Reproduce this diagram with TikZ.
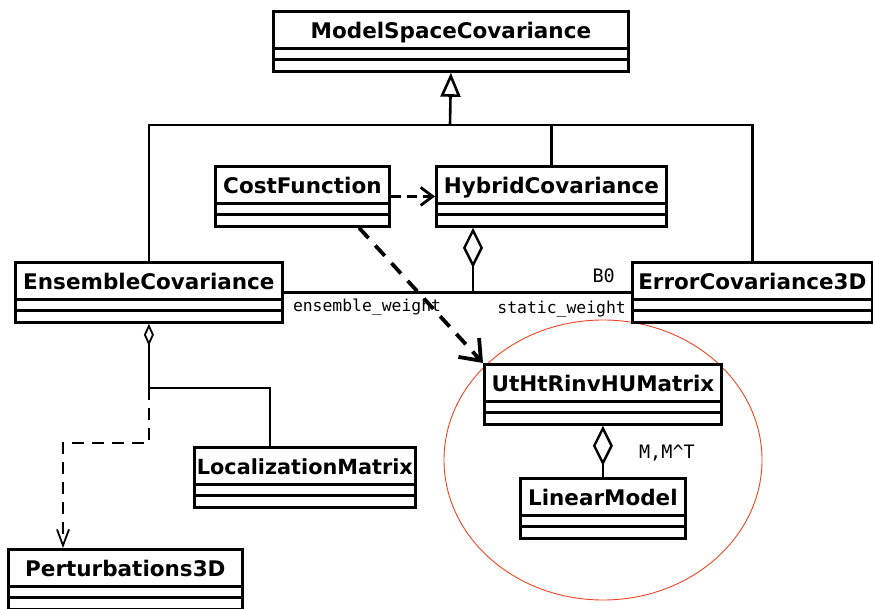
\documentclass[tikz,border=0pt]{standalone}
\usepackage{fontspec}
\setmainfont{DejaVu Sans}
\setmonofont{DejaVu Sans Mono}
\usepackage{tikz}
\usetikzlibrary{arrows.meta,positioning}
\definecolor{hilite}{HTML}{EE4422}

\begin{document}
\begin{tikzpicture}[x=1pt,y=-1pt,
  umlclass/.style={draw, fill=white, line width=2.8pt, anchor=north west,
    minimum width=#1, minimum height=60pt, inner ysep=0pt, inner xsep=1pt,
    text height=27pt, text depth=33pt,
    font=\fontsize{21.5}{24}\selectfont\bfseries,
    path picture={
      \draw[line width=2.8pt] ([yshift=-37pt]path picture bounding box.north west)
        -- ([yshift=-37pt]path picture bounding box.north east);
      \draw[line width=2.8pt] ([yshift=-48pt]path picture bounding box.north west)
        -- ([yshift=-48pt]path picture bounding box.north east);}},
  gen/.style={line width=2.6pt},
  assoc/.style={line width=2.4pt},
  thinassoc/.style={line width=1.8pt},
  dep/.style={line width=2.8pt, dash pattern=on 10pt off 6pt},
  lbl/.style={font=\ttfamily\fontsize{16.4}{18}\selectfont, inner sep=0pt},
  biglbl/.style={font=\ttfamily\fontsize{18.5}{20}\selectfont, inner sep=0pt}]

  \useasboundingbox (0,0) rectangle (873,609);

  % highlight round the model part
  \draw[hilite, line width=0.9pt] (603,460) ellipse [x radius=159, y radius=140];

  % Nodes
  \node[umlclass=355pt] (msc)  at (272,10)  {ModelSpaceCovariance};
  \node[umlclass=174pt] (cost) at (214,165) {CostFunction};
  \node[umlclass=230pt] (hyb)  at (435,165) {HybridCovariance};
  \node[umlclass=267pt] (ens)  at (14,261)  {EnsembleCovariance};
  \node[umlclass=240pt] (err)  at (631,261) {ErrorCovariance3D};
  \node[umlclass=237pt] (ut)   at (483,363) {UtHtRinvHUMatrix};
  \node[umlclass=165pt] (lin)  at (519,477) {LinearModel};
  \node[umlclass=221pt, font=\fontsize{20.8}{24}\selectfont\bfseries]
    (loc)  at (193,446) {LocalizationMatrix};
  \node[umlclass=234pt] (pert) at (7,548)   {Perturbations3D};

  \coordinate (fork)  at (450,125);
  \coordinate (bjoin) at (473,291);
  \coordinate (lsplit) at (270,388);
  \coordinate (pturn) at (63,443);

  % Generalization
  \draw[gen] (ens.north) |- (fork) -| (err.north);
  \draw[gen] (hyb.north) |- (fork);
  \draw[gen, -{Triangle[open,length=24pt,width=20pt]}] (fork) -- (msc.south);

  % Dependencies
  \draw[dep, -{Straight Barb[length=12pt,width=18pt]}] (cost.east) -- (hyb.west);
  \draw[dep, line width=3.8pt, dash pattern=on 14pt off 10pt,
    -{Straight Barb[length=18pt,width=28pt]}] (cost.-29) -- (ut.north west);

  % Aggregations
  \draw[assoc, {Diamond[open,length=40pt,width=20pt]}-] (hyb.south -| bjoin) -- (bjoin);
  \draw[assoc] (ens.east) -- (err.west)
    node[lbl, pos=0, anchor=base west, xshift=8pt, yshift=-19pt] {ensemble\_weight}
    node[lbl, pos=1, anchor=base east, xshift=-4pt, yshift=-21pt] {static\_weight}
    node[biglbl, pos=1, anchor=base east, xshift=-15pt, yshift=10pt] {B0};
  \draw[assoc, {Diamond[open,length=40pt,width=20pt]}-] (ut.south) -- (lin.north)
    node[biglbl, midway, anchor=base west, xshift=35pt, yshift=-7pt] {M,M\textasciicircum T};
  \draw[thinassoc, {Diamond[open,length=22pt,width=10pt]}-] (ens.south) |- (lsplit)
    -- (loc.north -| lsplit);
  \draw[thinassoc, dash pattern=on 12pt off 8pt, -{Straight Barb[length=16pt,width=12pt]}]
    (ens.south |- lsplit) -- (ens.south |- pturn) -- (pturn) -- (pert.north -| pturn);
\end{tikzpicture}
\end{document}
